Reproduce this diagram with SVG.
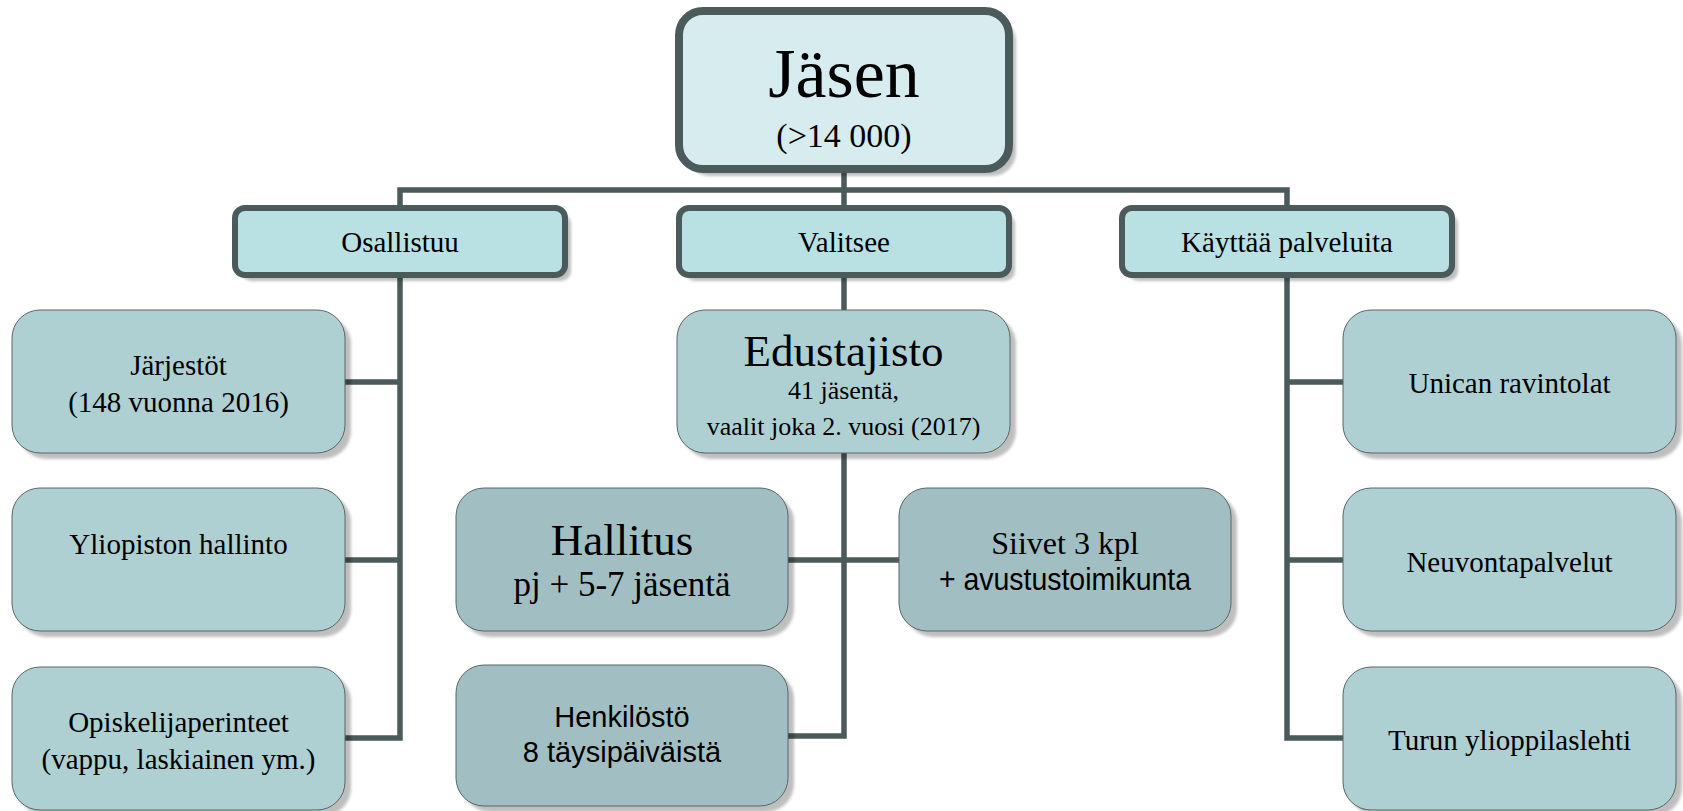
<svg xmlns="http://www.w3.org/2000/svg" width="1683" height="811" viewBox="0 0 1683 811">
<defs>
<filter id="sh" x="-10%" y="-10%" width="130%" height="130%">
<feGaussianBlur stdDeviation="1.5"/>
</filter>
<style>
.conn{fill:none;stroke:#4b5a5b;stroke-width:5.5;stroke-linejoin:miter;stroke-linecap:butt}
.shadow{fill:#000;opacity:0.25;filter:url(#sh)}
.top{fill:#d7ecef;stroke:#4b5a5b;stroke-width:8}
.mid{fill:#b9e0e3;stroke:#4b5a5b;stroke-width:6}
.leaf{fill:#aed0d3;stroke:#5a6566;stroke-width:1}
.dark{fill:#a1bfc2;stroke:#5a6566;stroke-width:1}
text{font-family:"Liberation Serif","Times New Roman",serif;fill:#000;text-anchor:middle}
.sans{font-family:"Liberation Sans",Arial,sans-serif}
</style>
</defs>
<rect width="1683" height="811" fill="#fff"/>
<g id="connectors">
<path class="conn" d="M844 170 V208"/>
<path class="conn" d="M400 208 V190 H1287 V208"/>
<path class="conn" d="M400 275 V738 H345 M345 382 H400 M345 560 H400"/>
<path class="conn" d="M844 275 V310 M844 453 V736 H788 M788 560 H899"/>
<path class="conn" d="M1287 275 V738 H1343 M1343 382 H1287 M1343 560 H1287"/>
</g>
<g id="jasen">
<rect class="shadow" x="686" y="18" width="330" height="158" rx="24"/>
<rect class="top" x="679" y="11" width="330" height="158" rx="24"/>
<text x="844" y="97" font-size="70">Jäsen</text>
<text x="844" y="147" font-size="34">(&gt;14 000)</text>
</g>
<g id="osallistuu">
<rect class="shadow" x="241" y="214" width="330" height="67" rx="10"/>
<rect class="mid" x="235" y="208" width="330" height="67" rx="10"/>
<text x="400" y="252" font-size="29">Osallistuu</text>
</g>
<g id="valitsee">
<rect class="shadow" x="685" y="214" width="330" height="67" rx="10"/>
<rect class="mid" x="679" y="208" width="330" height="67" rx="10"/>
<text x="844" y="252" font-size="29">Valitsee</text>
</g>
<g id="kayttaa">
<rect class="shadow" x="1128" y="214" width="330" height="67" rx="10"/>
<rect class="mid" x="1122" y="208" width="330" height="67" rx="10"/>
<text x="1287" y="252" font-size="29">Käyttää palveluita</text>
</g>
<g id="jarjestot">
<rect class="shadow" x="18" y="316" width="333" height="143" rx="28"/>
<rect class="leaf" x="12" y="310" width="333" height="143" rx="28"/>
<text x="178.5" y="375" font-size="29">Järjestöt</text>
<text x="178.5" y="412" font-size="29">(148 vuonna 2016)</text>
</g>
<g id="yliopisto">
<rect class="shadow" x="18" y="494" width="333" height="143" rx="28"/>
<rect class="leaf" x="12" y="488" width="333" height="143" rx="28"/>
<text x="178.5" y="554" font-size="29">Yliopiston hallinto</text>
</g>
<g id="perinteet">
<rect class="shadow" x="18" y="673" width="333" height="143" rx="28"/>
<rect class="leaf" x="12" y="667" width="333" height="143" rx="28"/>
<text x="178.5" y="732" font-size="29">Opiskelijaperinteet</text>
<text x="178.5" y="769" font-size="29">(vappu, laskiainen ym.)</text>
</g>
<g id="edustajisto">
<rect class="shadow" x="683" y="316" width="333" height="143" rx="28"/>
<rect class="leaf" x="677" y="310" width="333" height="143" rx="28"/>
<text x="843.5" y="366" font-size="45">Edustajisto</text>
<text x="843.5" y="399" font-size="26">41 jäsentä,</text>
<text x="843.5" y="435" font-size="26">vaalit joka 2. vuosi (2017)</text>
</g>
<g id="hallitus">
<rect class="shadow" x="462" y="494" width="332" height="143" rx="28"/>
<rect class="dark" x="456" y="488" width="332" height="143" rx="28"/>
<text x="622" y="555" font-size="45">Hallitus</text>
<text x="622" y="596" font-size="35">pj + 5-7 jäsentä</text>
</g>
<g id="siivet">
<rect class="shadow" x="905" y="494" width="332" height="143" rx="28"/>
<rect class="dark" x="899" y="488" width="332" height="143" rx="28"/>
<text x="1065" y="554" font-size="32">Siivet 3 kpl</text>
<text class="sans" x="1065" y="590" font-size="32" textLength="252" lengthAdjust="spacingAndGlyphs">+ avustustoimikunta</text>
</g>
<g id="henkilosto">
<rect class="shadow" x="462" y="671" width="332" height="141" rx="28"/>
<rect class="dark" x="456" y="665" width="332" height="141" rx="28"/>
<text class="sans" x="622" y="727" font-size="29">Henkilöstö</text>
<text class="sans" x="622" y="762" font-size="29">8 täysipäiväistä</text>
</g>
<g id="unica">
<rect class="shadow" x="1349" y="316" width="333" height="143" rx="28"/>
<rect class="leaf" x="1343" y="310" width="333" height="143" rx="28"/>
<text x="1509.5" y="393" font-size="29">Unican ravintolat</text>
</g>
<g id="neuvonta">
<rect class="shadow" x="1349" y="494" width="333" height="143" rx="28"/>
<rect class="leaf" x="1343" y="488" width="333" height="143" rx="28"/>
<text x="1509.5" y="572" font-size="29">Neuvontapalvelut</text>
</g>
<g id="lehti">
<rect class="shadow" x="1349" y="673" width="333" height="143" rx="28"/>
<rect class="leaf" x="1343" y="667" width="333" height="143" rx="28"/>
<text x="1509.5" y="750" font-size="29">Turun ylioppilaslehti</text>
</g>
</svg>
